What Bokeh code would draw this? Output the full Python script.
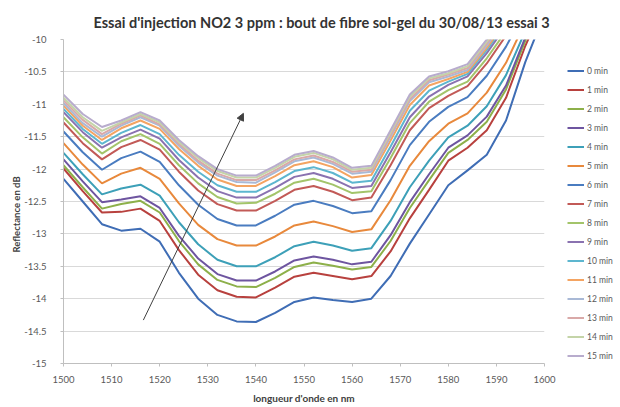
from bokeh.plotting import figure
from bokeh.layouts import row
from bokeh.models import Range1d, FixedTicker, Legend, LegendItem, Title, Arrow, NormalHead
from bokeh.embed import file_html
from bokeh.resources import INLINE

# ---------------- data ----------------
wavelength = [1500, 1504, 1508, 1512, 1516, 1520, 1524, 1528, 1532, 1536, 1540, 1544, 1548,
              1552, 1556, 1560, 1564, 1568, 1572, 1576, 1580, 1584, 1588, 1592, 1596, 1600]

series_names = ["0 min", "1 min", "2 min", "3 min", "4 min", "5 min", "6 min", "7 min",
                "8 min", "9 min", "10 min", "11 min", "12 min", "13 min", "14 min", "15 min"]

refl_00 = [-12.15, -12.50, -12.85, -12.95, -12.92, -13.12, -13.60, -14.00, -14.25, -14.35, -14.36, -14.22, -14.05, -13.98, -14.02, -14.05, -14.00, -13.65, -13.15, -12.70, -12.25, -12.02, -11.78, -11.25, -10.35, -9.60]
refl_01 = [-11.99, -12.34, -12.67, -12.66, -12.61, -12.80, -13.25, -13.63, -13.87, -13.97, -13.98, -13.83, -13.66, -13.60, -13.65, -13.70, -13.65, -13.27, -12.76, -12.32, -11.87, -11.67, -11.40, -10.90, -10.10, -9.43]
refl_02 = [-11.94, -12.28, -12.61, -12.54, -12.49, -12.67, -13.11, -13.47, -13.71, -13.81, -13.82, -13.68, -13.51, -13.44, -13.49, -13.55, -13.51, -13.11, -12.60, -12.17, -11.75, -11.55, -11.27, -10.77, -10.02, -9.37]
refl_03 = [-11.85, -12.19, -12.51, -12.47, -12.42, -12.60, -13.03, -13.38, -13.62, -13.72, -13.72, -13.58, -13.41, -13.35, -13.40, -13.47, -13.43, -13.02, -12.51, -12.08, -11.67, -11.48, -11.19, -10.71, -9.97, -9.34]
refl_04 = [-11.75, -12.08, -12.39, -12.30, -12.24, -12.41, -12.82, -13.16, -13.40, -13.50, -13.50, -13.36, -13.19, -13.12, -13.18, -13.26, -13.22, -12.80, -12.28, -11.87, -11.51, -11.33, -11.03, -10.55, -9.87, -9.26]
refl_05 = [-11.60, -11.93, -12.22, -12.07, -11.98, -12.15, -12.53, -12.86, -13.08, -13.18, -13.18, -13.04, -12.87, -12.81, -12.88, -12.97, -12.93, -12.48, -11.95, -11.57, -11.30, -11.14, -10.82, -10.36, -9.73, -9.17]
refl_06 = [-11.42, -11.74, -12.01, -11.83, -11.73, -11.89, -12.25, -12.55, -12.77, -12.87, -12.87, -12.72, -12.55, -12.49, -12.57, -12.68, -12.65, -12.17, -11.63, -11.27, -11.04, -10.89, -10.56, -10.11, -9.56, -9.05]
refl_07 = [-11.28, -11.60, -11.85, -11.66, -11.55, -11.70, -12.04, -12.33, -12.54, -12.64, -12.64, -12.49, -12.32, -12.26, -12.35, -12.48, -12.44, -11.94, -11.40, -11.06, -10.87, -10.72, -10.37, -9.94, -9.44, -8.97]
refl_08 = [-11.20, -11.51, -11.76, -11.57, -11.46, -11.61, -11.94, -12.22, -12.43, -12.53, -12.52, -12.38, -12.21, -12.15, -12.24, -12.37, -12.34, -11.83, -11.29, -10.96, -10.78, -10.65, -10.29, -9.87, -9.39, -8.93]
refl_09 = [-11.12, -11.43, -11.67, -11.51, -11.39, -11.53, -11.86, -12.13, -12.34, -12.44, -12.44, -12.29, -12.12, -12.06, -12.15, -12.29, -12.26, -11.74, -11.20, -10.88, -10.70, -10.57, -10.21, -9.79, -9.33, -8.89]
refl_10 = [-11.07, -11.38, -11.61, -11.44, -11.32, -11.46, -11.78, -12.04, -12.25, -12.35, -12.35, -12.20, -12.03, -11.97, -12.06, -12.21, -12.18, -11.65, -11.10, -10.79, -10.65, -10.53, -10.16, -9.75, -9.31, -8.87]
refl_11 = [-11.02, -11.33, -11.55, -11.37, -11.25, -11.38, -11.69, -11.95, -12.16, -12.26, -12.26, -12.11, -11.94, -11.88, -11.97, -12.13, -12.09, -11.56, -11.01, -10.71, -10.61, -10.50, -10.13, -9.72, -9.29, -8.86]
refl_12 = [-10.98, -11.29, -11.50, -11.33, -11.20, -11.33, -11.64, -11.90, -12.10, -12.20, -12.21, -12.05, -11.88, -11.82, -11.92, -12.07, -12.04, -11.50, -10.95, -10.66, -10.57, -10.47, -10.09, -9.69, -9.26, -8.84]
refl_13 = [-10.94, -11.24, -11.46, -11.30, -11.17, -11.31, -11.61, -11.87, -12.07, -12.17, -12.17, -12.02, -11.85, -11.79, -11.89, -12.04, -12.01, -11.47, -10.92, -10.63, -10.54, -10.44, -10.06, -9.66, -9.24, -8.83]
refl_14 = [-10.90, -11.20, -11.41, -11.28, -11.15, -11.28, -11.58, -11.83, -12.03, -12.13, -12.13, -11.98, -11.81, -11.75, -11.85, -12.01, -11.98, -11.43, -10.88, -10.60, -10.52, -10.41, -10.03, -9.63, -9.22, -8.81]
refl_15 = [-10.85, -11.15, -11.35, -11.25, -11.12, -11.25, -11.55, -11.80, -12.00, -12.10, -12.10, -11.95, -11.78, -11.72, -11.82, -11.98, -11.95, -11.40, -10.85, -10.57, -10.49, -10.38, -10.00, -9.60, -9.20, -8.80]

x_ticks = [1500, 1510, 1520, 1530, 1540, 1550, 1560, 1570, 1580, 1590, 1600]
y_ticks = [-15, -14.5, -14, -13.5, -13, -12.5, -12, -11.5, -11, -10.5, -10]
y_tick_labels = ["-15", "-14.5", "-14", "-13.5", "-13", "-12.5", "-12", "-11.5", "-11", "-10.5", "-10"]

title_text = "Essai d'injection NO2 3 ppm : bout de fibre sol-gel du 30/08/13 essai 3"
x_title = "longueur d'onde en nm"
y_title = "Reflectance en dB"

# arrow annotation (data coordinates)
arrow_start = (1516.6, -14.33)
arrow_end = (1537.4, -11.14)

# ---------------- styling ----------------
colors = ["#3F6DB5", "#B8413E", "#8DB04A", "#6E55A0", "#3DA0B8", "#E8893C",
          "#4A7CC0", "#C25A57", "#A3C46A", "#8A72B0", "#5DB6CF", "#F4A462",
          "#A9B9D6", "#D9A9A8", "#C4D4A8", "#B8ACCD"]
FONT = "Lato"
GRAY = "#595959"

series = [refl_00, refl_01, refl_02, refl_03, refl_04, refl_05, refl_06, refl_07,
          refl_08, refl_09, refl_10, refl_11, refl_12, refl_13, refl_14, refl_15]

p = figure(width=556, height=407, output_backend="svg", toolbar_location=None,
           x_range=Range1d(1500, 1600), y_range=Range1d(-15, -10),
           min_border_left=63, min_border_right=12, min_border_top=39, min_border_bottom=44)
p.outline_line_color = None
p.background_fill_color = "white"
p.border_fill_color = "white"

# main title (above panel)
p.title.text = title_text
p.title.align = "left"
p.title.offset = 30
p.title.standoff = 18
p.title.text_font = FONT
p.title.text_font_style = "bold"
p.title.text_font_size = "14.5px"
p.title.text_color = "#333333"

# axes
p.xaxis.ticker = FixedTicker(ticks=x_ticks)
p.yaxis.ticker = FixedTicker(ticks=y_ticks)
p.yaxis.major_label_overrides = {t: s for t, s in zip(y_ticks, y_tick_labels)}
for ax in (p.xaxis, p.yaxis):
    ax.axis_line_color = "#BFBFBF"
    ax.major_tick_line_color = "#BFBFBF"
    ax.major_tick_out = 3
    ax.major_tick_in = 0
    ax.minor_tick_line_color = None
    ax.major_label_text_font = FONT
    ax.major_label_text_font_size = "9.5px"
    ax.major_label_text_color = GRAY
p.xaxis.major_label_standoff = 9
p.yaxis.major_label_standoff = 14

p.xaxis.axis_label = x_title
p.xaxis.axis_label_standoff = 6
p.xaxis.axis_label_text_font = FONT
p.xaxis.axis_label_text_font_style = "bold"
p.xaxis.axis_label_text_font_size = "10px"
p.xaxis.axis_label_text_color = "#404040"

# y title as a side title so it can sit below the frame centre, like the reference
ytitle = Title(text=y_title, align="left", offset=111, standoff=0,
               text_font=FONT, text_font_style="bold", text_font_size="9.5px",
               text_color="#404040")
p.add_layout(ytitle, "left")

p.xgrid.grid_line_color = None
p.ygrid.grid_line_color = "#D9D9D9"
p.ygrid.grid_line_width = 1

for vals, col in zip(series, colors):
    p.line(wavelength, vals, line_color=col, line_width=2)

p.add_layout(Arrow(end=NormalHead(size=7, fill_color="#404040", line_color="#404040"),
                   x_start=arrow_start[0], y_start=arrow_start[1],
                   x_end=arrow_end[0], y_end=arrow_end[1],
                   line_color="#404040", line_width=1))

# ---------------- legend panel (separate frameless figure on the right) ----------------
pl = figure(width=62, height=407, output_backend="svg", toolbar_location=None,
            x_axis_location=None, y_axis_location=None, min_border=0,
            x_range=Range1d(0, 1), y_range=Range1d(0, 1))
pl.outline_line_color = None
pl.grid.grid_line_color = None
pl.background_fill_color = "white"
pl.border_fill_color = "white"

items = []
for name, col in zip(series_names, colors):
    # legend-only renderers: their points lie outside this panel's visible range
    r = pl.line(x=[5, 6], y=[5, 6], line_color=col, line_width=2)
    items.append(LegendItem(label=name, renderers=[r]))

legend = Legend(items=items, location=(11, -2), orientation="vertical",
                glyph_width=17, glyph_height=19, label_height=19, spacing=0,
                label_standoff=3, padding=0, margin=0,
                label_text_font=FONT, label_text_font_size="8.5px", label_text_color=GRAY,
                border_line_color=None, background_fill_alpha=0)
pl.add_layout(legend, "center")

layout = row(p, pl, spacing=0)
open("out.html", "w").write(file_html(layout, INLINE))
